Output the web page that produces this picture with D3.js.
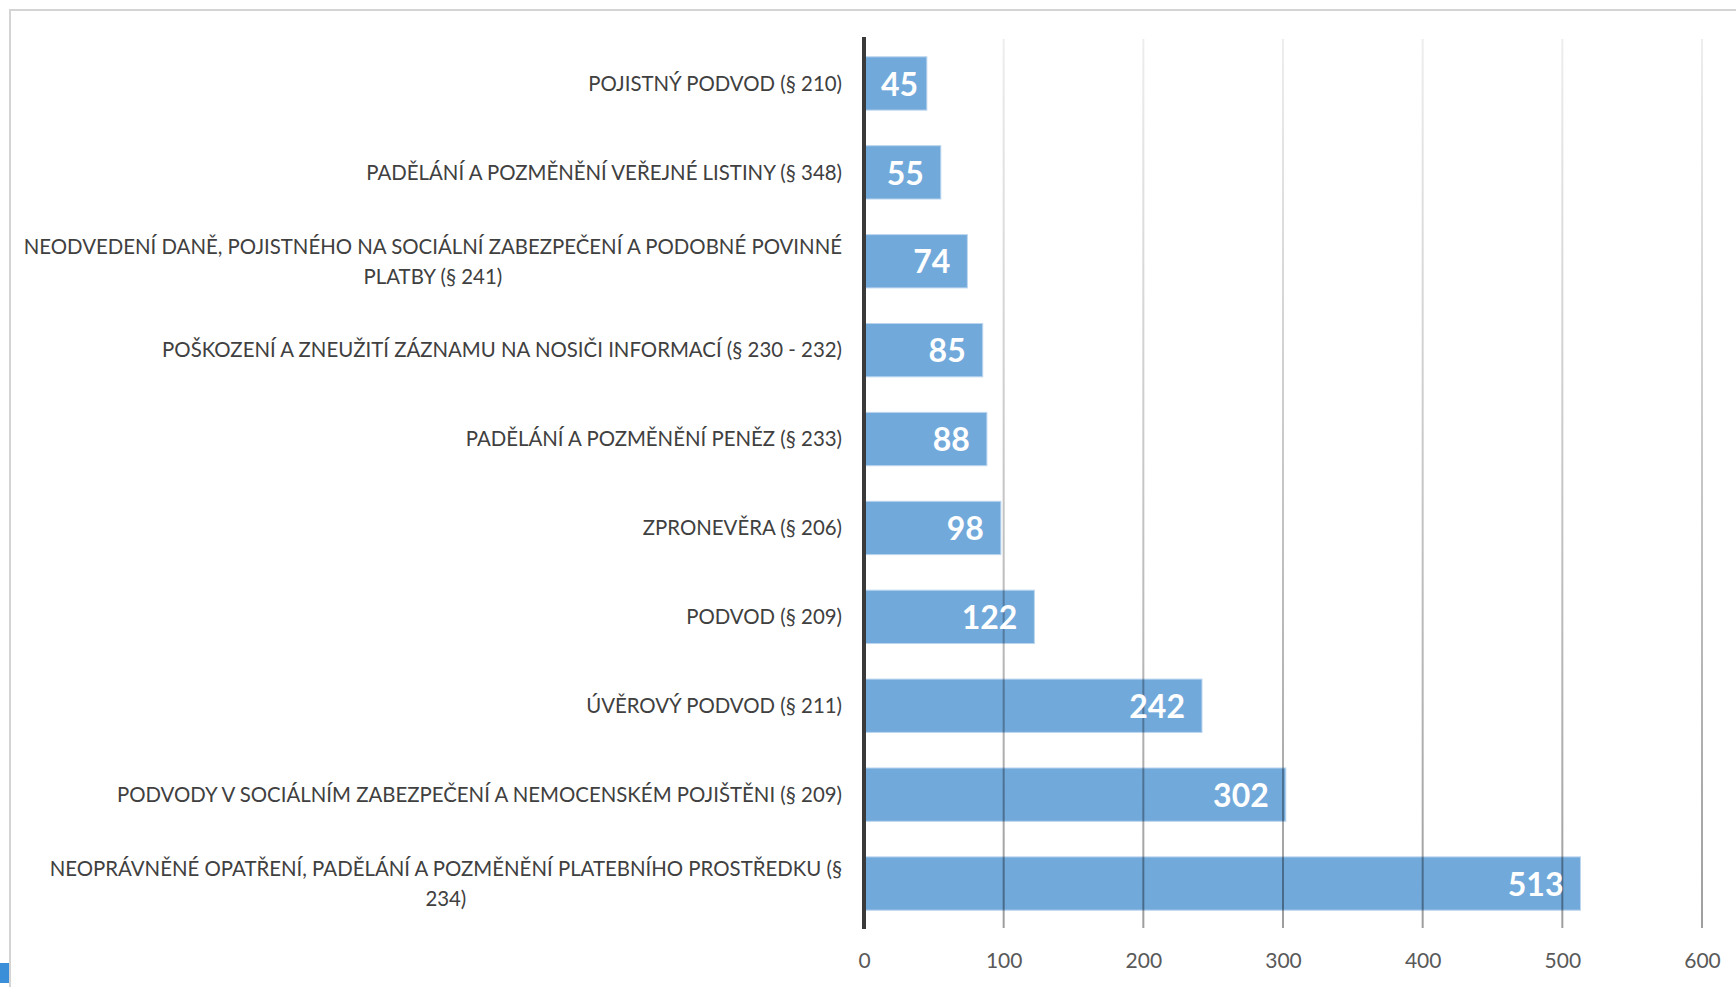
<!DOCTYPE html>
<html>
<head>
<meta charset="utf-8">
<script src="https://cdn.jsdelivr.net/npm/d3@7"></script>
<style>
  body { margin: 0; background: #fff; }
  svg { display: block; }
</style>
</head>
<body>
<div id="chart"></div>
<script>
// data, top to bottom as in the chart
let categories = [
  "POJISTNÝ PODVOD (§ 210)",
  "PADĚLÁNÍ A POZMĚNĚNÍ VEŘEJNÉ LISTINY (§ 348)",
  "NEODVEDENÍ DANĚ, POJISTNÉHO NA SOCIÁLNÍ ZABEZPEČENÍ A PODOBNÉ POVINNÉ PLATBY (§ 241)",
  "POŠKOZENÍ A ZNEUŽITÍ ZÁZNAMU NA NOSIČI INFORMACÍ (§ 230 - 232)",
  "PADĚLÁNÍ A POZMĚNĚNÍ PENĚZ (§ 233)",
  "ZPRONEVĚRA (§ 206)",
  "PODVOD (§ 209)",
  "ÚVĚROVÝ PODVOD (§ 211)",
  "PODVODY V SOCIÁLNÍM ZABEZPEČENÍ A NEMOCENSKÉM POJIŠTĚNI (§ 209)",
  "NEOPRÁVNĚNÉ OPATŘENÍ, PADĚLÁNÍ A POZMĚNĚNÍ PLATEBNÍHO PROSTŘEDKU (§ 234)"
];
let values = [45, 55, 74, 85, 88, 98, 122, 242, 302, 513];
let xTicks = [0, 100, 200, 300, 400, 500, 600];

let svgextent = [1736, 987];
let font = "Lato, 'Open Sans', sans-serif";

var svg = d3.select("#chart").append("svg")
    .attr("width", svgextent[0])
    .attr("height", svgextent[1]);

// grey frame round the chart area
svg.append("path")
    .attr("d", "M10,987 L10,10 L1736,10")
    .attr("fill", "none")
    .attr("stroke", "#d4d4d4")
    .attr("stroke-width", 2);

// little blue corner bit at bottom left
svg.append("path")
    .attr("d", "M0,963 L9,963 L9,983 L0,983 Z M0,963 L3,963 L0,968 Z")
    .attr("fill", "#3a8fd8");

var x = d3.scaleLinear().domain([0, 600]).range([864, 1702]);
var y = d3.scaleBand().domain(categories).range([39, 928]).paddingInner(0.4).paddingOuter(0.2);

var defs = svg.append("defs");
var grad = defs.append("linearGradient")
    .attr("id", "gridgrad")
    .attr("gradientUnits", "userSpaceOnUse")
    .attr("x1", 0).attr("y1", 39).attr("x2", 0).attr("y2", 928);
grad.append("stop").attr("offset", 0).attr("stop-color", "#000").attr("stop-opacity", 0.07);
grad.append("stop").attr("offset", 1).attr("stop-color", "#000").attr("stop-opacity", 0.38);

// bars
svg.append("g").selectAll("rect")
    .data(values)
    .enter().append("rect")
    .attr("x", x(0))
    .attr("y", (d, i) => y(categories[i]))
    .attr("width", d => x(d) - x(0))
    .attr("height", y.bandwidth())
    .attr("fill", "#72a9db")
    .attr("stroke", "#bcd6ef")
    .attr("stroke-width", 1);

// gridlines on top of the bars
svg.append("g").selectAll("rect")
    .data(xTicks.slice(1))
    .enter().append("rect")
    .attr("x", d => x(d) - 1)
    .attr("y", 39)
    .attr("width", 2)
    .attr("height", 928 - 39)
    .attr("fill", "url(#gridgrad)");

// zero axis line
svg.append("line")
    .attr("x1", x(0)).attr("x2", x(0))
    .attr("y1", 37).attr("y2", 929)
    .attr("stroke", "#3a3a3a")
    .attr("stroke-width", 4);

// x tick labels
var xAxis = d3.axisBottom(x).tickValues(xTicks).tickSize(0).tickPadding(0);
var gx = svg.append("g")
    .attr("transform", "translate(0,953)")
    .call(xAxis);
gx.select(".domain").remove();
gx.selectAll("text")
    .attr("font-family", font)
    .attr("font-size", 21)
    .attr("fill", "#595959")
    .attr("dy", "0.71em");

// category labels, wrapped and centred as a block, right edge at 842
var labelRight = 842;
var wrapWidth = 828;
var labSize = 20.4;
var lab = svg.append("g").selectAll("g")
    .data(categories)
    .enter().append("g");

lab.each(function(d) {
  var g = d3.select(this);
  var words = d.split(" ");
  var lines = [];
  var line = [];
  var probe = g.append("text").attr("font-family", font).attr("font-size", labSize);
  words.forEach(function(w) {
    line.push(w);
    probe.text(line.join(" "));
    if (probe.node().getComputedTextLength() > wrapWidth && line.length > 1) {
      line.pop();
      lines.push(line.join(" "));
      line = [w];
    }
  });
  lines.push(line.join(" "));
  var widths = lines.map(function(l) { probe.text(l); return probe.node().getComputedTextLength(); });
  probe.remove();
  var blockW = d3.max(widths);
  var cy = y(d) + y.bandwidth() / 2;
  var lh = 30;
  var t = g.append("text")
      .attr("font-family", font)
      .attr("font-size", labSize)
      .attr("fill", "#404040")
      .attr("text-anchor", "middle");
  lines.forEach(function(l, k) {
    t.append("tspan")
        .attr("x", labelRight - blockW / 2)
        .attr("y", cy + (k - (lines.length - 1) / 2) * lh)
        .attr("dy", "0.36em")
        .text(l);
  });
});

// value labels, inside end of each bar
var pad = 17;
svg.append("g").selectAll("text")
    .data(values)
    .enter().append("text")
    .attr("font-family", font)
    .attr("font-weight", "bold")
    .attr("font-size", 32)
    .attr("fill", "#fff")
    .attr("text-anchor", "end")
    .attr("y", (d, i) => y(categories[i]) + y.bandwidth() / 2)
    .attr("dy", "0.38em")
    .text(d => d)
    .attr("x", function(d) {
      var w = this.getComputedTextLength();
      return Math.max(x(d) - pad, x(0) + pad + w);
    });
</script>
</body>
</html>
